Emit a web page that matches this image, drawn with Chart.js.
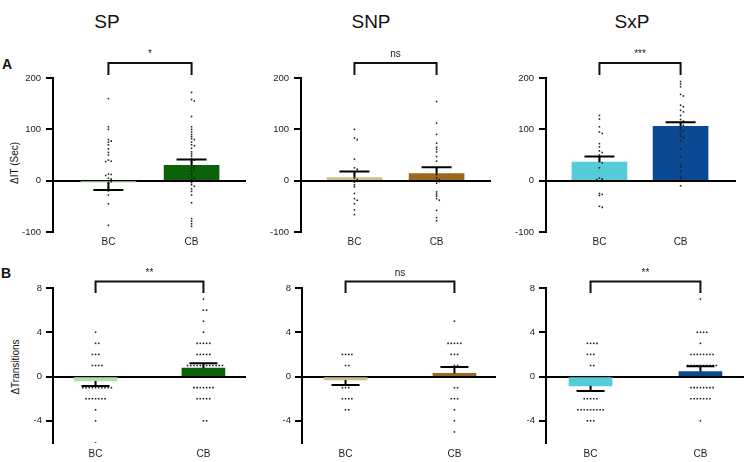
<!DOCTYPE html>
<html><head><meta charset="utf-8">
<script src="https://cdn.jsdelivr.net/npm/chart.js@4.4.1/dist/chart.umd.min.js"></script>
<style>
body{margin:0;background:#fff;width:748px;height:462px;position:relative;overflow:hidden;font-family:"Liberation Sans",Arial,sans-serif;}
canvas{position:absolute;}
.t{position:absolute;color:#111;white-space:nowrap;transform:translate(-50%,-50%);}
</style></head><body>
<div class="t" style="left:107px;top:22px;font-size:19px;">SP</div>
<div class="t" style="left:371px;top:22px;font-size:19px;">SNP</div>
<div class="t" style="left:632px;top:22px;font-size:19px;">SxP</div>
<div class="t" style="left:7px;top:64px;font-size:14px;font-weight:bold;">A</div>
<div class="t" style="left:6px;top:273px;font-size:14px;font-weight:bold;">B</div>
<div class="t" style="left:14px;top:163px;font-size:10px;transform:translate(-50%,-50%) rotate(-90deg);">ΔIT (Sec)</div>
<div class="t" style="left:15px;top:367px;font-size:10px;transform:translate(-50%,-50%) rotate(-90deg);">ΔTransitions</div>
<script>
// ---------- data ----------
const categories = ['BC', 'CB'];
const ticksA = [-100, 0, 100, 200];
const ticksB = [-4, 0, 4, 8];
const signifA = ['*', 'ns', '***'];
const signifB = ['**', 'ns', '**'];

const colorsSP = ['#b3e0aa', '#0b620b'];
const colorsSNP = ['#cdbf85', '#9a6820'];
const colorsSxP = ['#55ccd8', '#0b4993'];

// Row A: ΔIT (Sec)  — bar means and SEM
const meanA_SP = [-3, 30];
const semA_SP = [15, 11];
const meanA_SNP = [6, 14];
const semA_SNP = [12, 12];
const meanA_SxP = [36, 106];
const semA_SxP = [11, 8];

// Row A individual points
const ptsA_SP_BC = [160, 105, 100, 80, 77, 75, 70, 62, 55, 50, 40, 38, 37, 13, 12, 10, 5, 3, 0, -2, -5, -15, -20, -28, -45, -87];
const ptsA_SP_CB = [172, 158, 155, 125, 105, 100, 95, 90, 86, 82, 80, 75, 70, 68, 63, 56, 52, 48, 43, 40, 37, 30, 27, 25, 22, 18, 13, 8, 5, 2, 0, -4, -8, -11, -16, -21, -28, -43, -74, -79, -84, -89];
const ptsA_SNP_BC = [100, 83, 80, 42, 25, 22, 12, 5, 2, -3, -8, -12, -25, -35, -38, -45, -57, -66];
const ptsA_SNP_CB = [154, 112, 90, 73, 65, 61, 56, 47, 38, 23, 12, 5, 2, 0, -2, -5, -22, -26, -30, -35, -38, -58, -72, -78];
const ptsA_SxP_BC = [127, 120, 105, 95, 92, 72, 66, 58, 55, 50, 42, 38, 35, 25, 5, 3, 2, -25, -27, -29, -50, -52];
const ptsA_SxP_CB = [193, 188, 183, 168, 165, 147, 144, 137, 134, 127, 119, 116, 111, 108, 103, 99, 96, 92, 87, 84, 78, 62, 47, 31, 26, 18, 8, 3, -10];

// Row B: ΔTransitions — bar means and SEM
const meanB_SP = [-0.39, 0.76];
const semB_SP = [0.46, 0.44];
const meanB_SNP = [-0.3, 0.3];
const semB_SNP = [0.45, 0.57];
const meanB_SxP = [-0.84, 0.45];
const semB_SxP = [0.46, 0.49];

// Row B individual points
const ptsB_SP_BC = [4, 3, 3, 2, 2, 2, 1, 1, 1, 1, -1, -1, -1, -1, -1, -1, -1, -1, -1, -1, -2, -2, -2, -2, -2, -2, -2, -3, -4, -6];
const ptsB_SP_CB = [7, 6, 6, 5, 4, 3, 3, 3, 3, 3, 2, 2, 2, 2, 2, 1, 1, 1, 1, 1, 1, 1, 1, 1, 1, 1, 1, -1, -1, -1, -1, -1, -1, -1, -2, -2, -2, -2, -2, -4, -4];
const ptsB_SNP_BC = [2, 2, 2, 2, 1, 1, -1, -1, -1, -2, -2, -2, -2, -3, -3];
const ptsB_SNP_CB = [5, 3, 3, 3, 3, 3, 2, 2, 2, 1, 1, -1, -1, -2, -2, -2, -3, -4, -5];
const ptsB_SxP_BC = [3, 3, 3, 3, 2, 2, 2, 1, 1, -1, -2, -2, -2, -2, -2, -3, -3, -3, -3, -3, -3, -3, -3, -3, -4, -4, -4];
const ptsB_SxP_CB = [7, 4, 4, 4, 4, 3, 2, 2, 2, 2, 2, 2, 2, 2, 1, 1, 1, 1, 1, 1, 1, 1, 1, 1, -1, -1, -1, -1, -1, -1, -1, -1, -2, -2, -2, -2, -2, -2, -2, -4];

// ---------- layout (pixels) ----------
const geomA = [
  {axis: 53, c0: 109, c1: 193, right: 248},
  {axis: 301, c0: 355, c1: 438, right: 493},
  {axis: 546, c0: 600, c1: 682, right: 738}
];
const geomB = [
  {axis: 53, c0: 96, c1: 205, right: 248},
  {axis: 302, c0: 346, c1: 456, right: 498},
  {axis: 546, c0: 591, c1: 702, right: 746}
];
const rowA = {top: 78, bottom: 232, min: -100, max: 200, ticks: ticksA, barW: 55, capW: 30, brTop: 15, brEnd: 3, labY: 24, tickLen: 7, tickPad: 5, xPad: 4, step: 2.8, minDist: 1.7};
const rowB = {top: 288, bottom: 443, min: -6, max: 8, ticks: ticksB, barW: 43, capW: 28, brTop: 6.5, brEnd: -5, labY: 15, tickLen: 7, tickPad: 4, xPad: 5, step: 3.2, minDist: 2.6};

Chart.defaults.font.family = '"Liberation Sans", Arial, sans-serif';
Chart.defaults.font.size = 10;
Chart.defaults.color = '#222';

function swarm(values, catIndex, pxPerY, pxPerX, step, minDist) {
  const placed = [];
  const out = [];
  const sorted = values.slice().sort((a, b) => b - a);
  for (const v of sorted) {
    const py = v * pxPerY;
    let slot = 0;
    for (let k = 0; k < 80; k++) {
      const s = k === 0 ? 0 : (k % 2 ? (k + 1) / 2 : -k / 2);
      if (!placed.some(p => p.s === s && Math.abs(p.py - py) < minDist)) { slot = s; break; }
    }
    placed.push({s: slot, py});
    out.push({x: catIndex + slot * step / pxPerX, y: v});
  }
  return out;
}

function makePanel(g, row, means, sems, colors, ptsBC, ptsCB, sig) {
  const LW = 50, TOPPAD = 40, XH = 22;
  const left = g.axis - LW, top = row.top - TOPPAD;
  const w = g.right + 2 - left, h = row.bottom + XH - top;
  const cv = document.createElement('canvas');
  cv.width = w; cv.height = h;
  cv.style.left = left + 'px'; cv.style.top = top + 'px';
  cv.style.width = w + 'px'; cv.style.height = h + 'px';
  document.body.appendChild(cv);

  const sp = g.c1 - g.c0;
  const xmin = (g.axis - g.c0) / sp;
  const xmax = 1 + (g.right - g.c1) / sp;
  const pxPerY = (row.bottom - row.top) / (row.max - row.min);
  const pts = swarm(ptsBC, 0, pxPerY, sp, row.step, row.minDist).concat(swarm(ptsCB, 1, pxPerY, sp, row.step, row.minDist));

  const overlay = {
    id: 'overlay',
    afterDatasetsDraw(chart) {
      const ctx = chart.ctx, xs = chart.scales.x, ys = chart.scales.y;
      ctx.save();
      ctx.strokeStyle = '#000'; ctx.lineWidth = 2;
      for (let i = 0; i < 2; i++) {
        const x = xs.getPixelForValue(i);
        const sgn = means[i] >= 0 ? 1 : -1;
        const y0 = ys.getPixelForValue(means[i]);
        const y1 = ys.getPixelForValue(means[i] + sgn * sems[i]);
        ctx.beginPath();
        ctx.moveTo(x, y0); ctx.lineTo(x, y1);
        ctx.moveTo(x - row.capW / 2, y1); ctx.lineTo(x + row.capW / 2, y1);
        ctx.stroke();
      }
      ctx.restore();
    },
    afterDraw(chart) {
      const ctx = chart.ctx, xs = chart.scales.x, a = chart.chartArea;
      const x0 = xs.getPixelForValue(0), x1 = xs.getPixelForValue(1);
      const yt = a.top - row.brTop, ye = a.top - row.brEnd;
      ctx.save();
      ctx.strokeStyle = '#111'; ctx.lineWidth = 2;
      ctx.beginPath();
      ctx.moveTo(x0, ye); ctx.lineTo(x0, yt); ctx.lineTo(x1, yt); ctx.lineTo(x1, ye);
      ctx.stroke();
      ctx.fillStyle = '#222';
      ctx.font = '10px "Liberation Sans", Arial, sans-serif';
      ctx.textAlign = 'center'; ctx.textBaseline = 'middle';
      ctx.fillText(sig, (x0 + x1) / 2, a.top - row.labY);
      ctx.restore();
    }
  };

  new Chart(cv, {
    type: 'bar',
    data: {
      datasets: [
        {type: 'scatter', data: pts, pointStyle: 'rect', pointRadius: 1.1, pointBackgroundColor: '#1a1a1a', pointBorderWidth: 0, order: 1},
        {type: 'bar', data: [{x: 0, y: means[0]}, {x: 1, y: means[1]}], backgroundColor: colors, barThickness: row.barW, borderWidth: 0, order: 2}
      ]
    },
    options: {
      responsive: false, animation: false, devicePixelRatio: 1,
      layout: {padding: {top: TOPPAD, right: 2, left: 0, bottom: 0}},
      plugins: {legend: {display: false}, tooltip: {enabled: false}, title: {display: false}},
      scales: {
        x: {
          type: 'linear', min: xmin, max: xmax, offset: false,
          grid: {display: false, drawTicks: false, tickLength: 0, offset: false},
          border: {display: false},
          afterBuildTicks: s => { s.ticks = [{value: 0}, {value: 1}]; },
          afterFit: s => { s.height = XH; },
          ticks: {callback: v => categories[Math.round(v)], padding: row.xPad, maxRotation: 0, autoSkip: false, font: {size: 10}}
        },
        y: {
          min: row.min, max: row.max, z: 1,
          afterBuildTicks: s => { s.ticks = row.ticks.map(v => ({value: v})); },
          afterFit: s => { s.width = LW; },
          grid: {
            color: c => (c.tick && c.tick.value === 0) ? '#000' : 'rgba(0,0,0,0)',
            lineWidth: 2, drawTicks: true, tickLength: row.tickLen, tickColor: '#000', tickWidth: 2
          },
          border: {display: true, color: '#000', width: 2},
          ticks: {padding: row.tickPad, font: {size: 9.5}, color: '#222'}
        }
      }
    },
    plugins: [overlay]
  });
}

makePanel(geomA[0], rowA, meanA_SP, semA_SP, colorsSP, ptsA_SP_BC, ptsA_SP_CB, signifA[0]);
makePanel(geomA[1], rowA, meanA_SNP, semA_SNP, colorsSNP, ptsA_SNP_BC, ptsA_SNP_CB, signifA[1]);
makePanel(geomA[2], rowA, meanA_SxP, semA_SxP, colorsSxP, ptsA_SxP_BC, ptsA_SxP_CB, signifA[2]);
makePanel(geomB[0], rowB, meanB_SP, semB_SP, colorsSP, ptsB_SP_BC, ptsB_SP_CB, signifB[0]);
makePanel(geomB[1], rowB, meanB_SNP, semB_SNP, colorsSNP, ptsB_SNP_BC, ptsB_SNP_CB, signifB[1]);
makePanel(geomB[2], rowB, meanB_SxP, semB_SxP, colorsSxP, ptsB_SxP_BC, ptsB_SxP_CB, signifB[2]);
</script>
</body></html>
